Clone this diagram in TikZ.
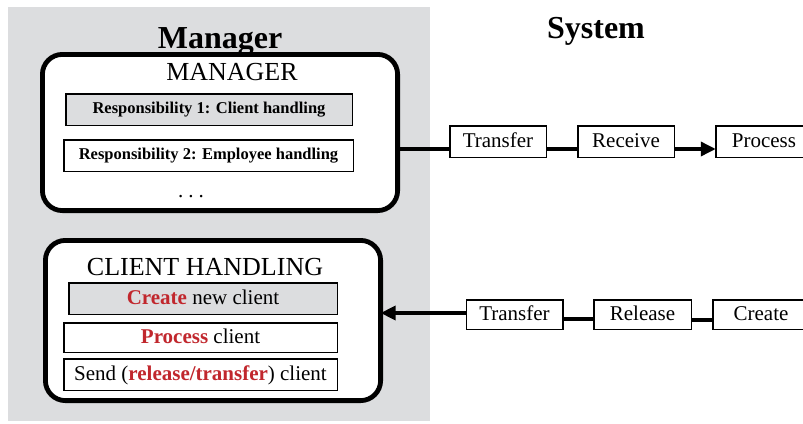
\documentclass[tikz,border=0pt]{standalone}
\usepackage{fontspec}
\setmainfont{Liberation Serif}
\usetikzlibrary{arrows.meta}
\definecolor{panelgray}{RGB}{220,221,223}
\definecolor{keyred}{RGB}{193,39,45}

\begin{document}
\begin{tikzpicture}[x=1pt,y=-1pt,
  container/.style={draw, line width=4.8pt, rounded corners=20pt, fill=white,
    inner sep=0pt, outer sep=0pt},
  item/.style={draw, line width=1.5pt, inner sep=0pt, outer sep=0pt,
    font=\fontsize{21}{21}\selectfont, text height=15pt, text depth=4pt},
  resp/.style={item, font=\fontsize{16.5}{16.5}\selectfont\bfseries,
    text height=11pt, text depth=3pt},
  stage/.style={item, fill=white, minimum width=96.5pt},
  heading/.style={anchor=base, font=\fontsize{32}{32}\selectfont\bfseries},
  boxtitle/.style={anchor=base, font=\fontsize{26}{26}\selectfont},
  link/.style={line width=3.5pt},
  arrowlink/.style={link, -{Triangle[length=15pt,width=14pt]}}
]
\useasboundingbox (0,0) rectangle (803,423);

% grey area of the manager side
\node[fill=panelgray, minimum width=422pt, minimum height=414pt,
      inner sep=0pt, outer sep=0pt] (panel) at (219,214) {};

% column headings
\node[heading] (hmgr) at (220,48) {Manager};
\node[heading] (hsys) at (596,38) {System};

% manager container with its responsibilities
\node[container, minimum width=355.2pt, minimum height=156.2pt] (mgr) at (220,132.5) {};
\node[boxtitle] (mgrtitle) at (232,80) {MANAGER};
\node[resp, fill=panelgray, minimum width=286.5pt, minimum height=31.5pt] (resp1)
  at (209,109.5) {Responsibility 1: Client handling};
\node[resp, fill=white, minimum width=289.5pt, minimum height=31.5pt] (resp2)
  at (208.5,155.5) {Responsibility 2: Employee handling};
\node[anchor=base, font=\fontsize{21}{21}\selectfont] (more) at (191,197)
  {.\hspace{5pt}.\hspace{5pt}.};

% client handling container with its operations
\node[container, minimum width=335.2pt, minimum height=160.2pt] (client) at (213,320.5) {};
\node[boxtitle] (clienttitle) at (205,275) {CLIENT HANDLING};
\node[item, fill=panelgray, minimum width=268.5pt, minimum height=31.5pt] (create)
  at (203,298.5) {{\color{keyred}\bfseries Create} new client};
\node[item, fill=white, minimum width=273.5pt, minimum height=29.5pt] (process)
  at (200.5,337.5) {{\color{keyred}\bfseries Process} client};
\node[item, fill=white, minimum width=273.5pt, minimum height=31.5pt] (send)
  at (200.5,374.5) {Send ({\color{keyred}\bfseries release/transfer}) client};

% system side: outgoing chain
\node[stage, minimum height=31.5pt] (tr1) at (498,141.5) {Transfer};
\node[stage, minimum height=31.5pt] (recv) at (626,141.5) {Receive};
\node[stage, minimum height=31.5pt] (proc) at (764,141.5) {Process};

% system side: incoming chain
\node[stage, minimum height=29.5pt] (tr2) at (514.5,314.5) {Transfer};
\node[stage, minimum height=29.5pt, minimum width=97.5pt] (rel) at (642.5,314.5) {Release};
\node[stage, minimum height=29.5pt] (crt) at (761,314.5) {Create};

% levels of the connector lines
\coordinate (toplevel) at (0,149);
\coordinate (arrowlevel) at (0,313);
\coordinate (linklevel) at (0,319);
\coordinate (linklevelb) at (0,320);

\draw[link] (mgr.east |- toplevel) -- (tr1.west |- toplevel);
\draw[link] (tr1.east |- toplevel) -- (recv.west |- toplevel);
\draw[arrowlink] (recv.east |- toplevel) -- (proc.west |- toplevel);

\draw[arrowlink] (tr2.west |- arrowlevel) -- (client.east |- arrowlevel);
\draw[link] (tr2.east |- linklevel) -- (rel.west |- linklevel);
\draw[link] (rel.east |- linklevelb) -- (crt.west |- linklevelb);
\end{tikzpicture}
\end{document}
